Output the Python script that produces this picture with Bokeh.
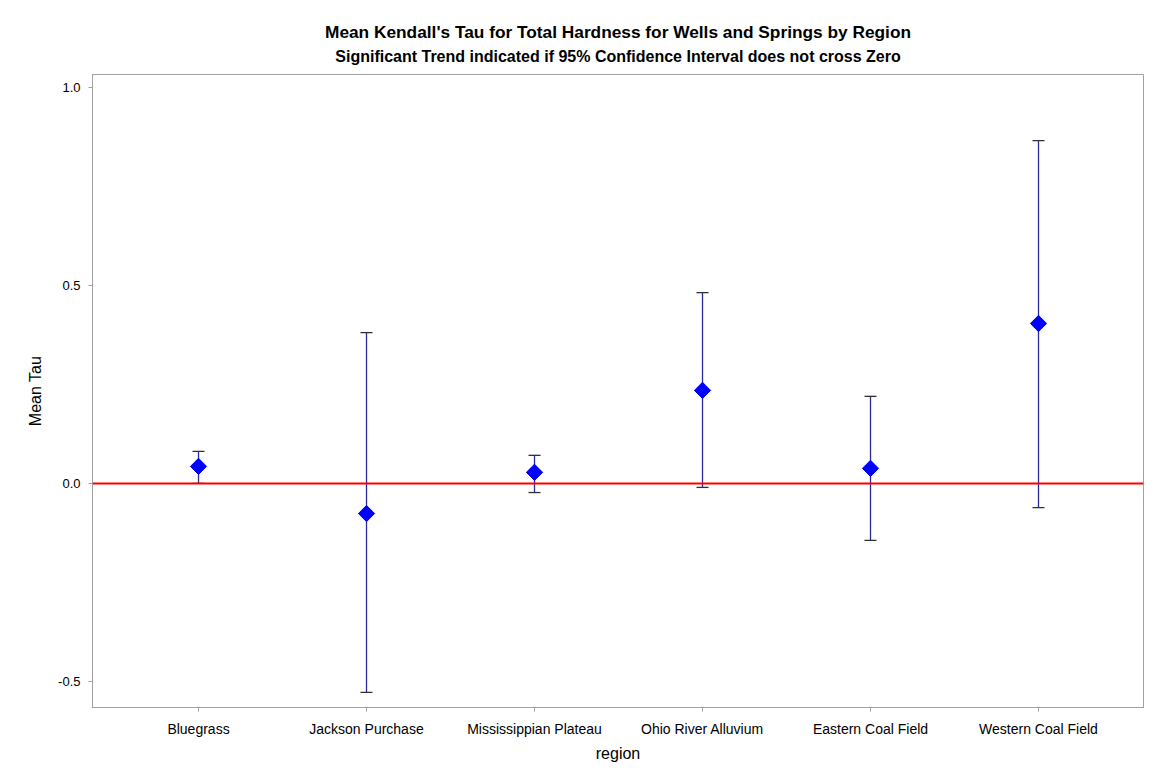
import numpy as np
from bokeh.plotting import figure
from bokeh.models import (ColumnDataSource, Whisker, TeeHead, Span, Title,
                          FixedTicker, Range1d)
from bokeh.embed import file_html
from bokeh.resources import INLINE

# Mean Kendall's tau and 95% confidence limits per region
regions = ["Bluegrass", "Jackson Purchase", "Mississippian Plateau",
           "Ohio River Alluvium", "Eastern Coal Field", "Western Coal Field"]
mean_tau = [0.043, -0.076, 0.028, 0.235, 0.038, 0.404]
upper_ci = [0.081, 0.381, 0.071, 0.482, 0.220, 0.866]
lower_ci = [0.000, -0.528, -0.023, -0.010, -0.144, -0.061]
y_ticks = [-0.5, 0.0, 0.5, 1.0]

pos = list(range(len(regions)))
src = ColumnDataSource(dict(x=pos, mean=mean_tau, upper=upper_ci, lower=lower_ci))

FONT = "Liberation Sans"
GRAY = "#a0a0a0"

p = figure(width=1152, height=771, output_backend="svg", toolbar_location=None,
           x_range=Range1d(-0.631, 5.625), y_range=Range1d(-0.566, 1.033),
           min_border_left=92, min_border_right=9, min_border_top=74,
           min_border_bottom=64, background_fill_color="white",
           border_fill_color="white")

# two-line heading: main title on top, subtitle just above the frame
p.title.text = "Mean Kendall's Tau for Total Hardness for Wells and Springs by Region"
p.title.text_font = FONT
p.title.text_font_size = "17.3px"
p.title.text_font_style = "bold"
p.title.text_color = "black"
p.title.align = "center"
p.title.offset = 0
p.title.standoff = -13
p.add_layout(Title(text="Significant Trend indicated if 95% Confidence Interval does not cross Zero",
                   text_font=FONT, text_font_size="16px", text_font_style="bold",
                   text_color="black", align="center", standoff=20), "above")

p.grid.visible = False
p.outline_line_color = GRAY
p.outline_line_width = 1

# zero reference line
p.add_layout(Span(location=0.0, dimension="width", line_color="#ff0000", line_width=2))

# confidence intervals
wh = Whisker(source=src, base="x", upper="upper", lower="lower", dimension="height",
             line_color="#2b2b9c", line_width=1.3,
             upper_head=TeeHead(size=12, line_color="#303030", line_width=1.3),
             lower_head=TeeHead(size=12, line_color="#303030", line_width=1.3))
p.add_layout(wh)

# means
p.scatter("x", "mean", source=src, marker="square", angle=np.pi / 4, size=11.5,
          fill_color="#0000ff", line_color="#0000ff")

# axes
p.xaxis.ticker = FixedTicker(ticks=pos)
p.xaxis.major_label_overrides = {i: r for i, r in enumerate(regions)}
p.yaxis.ticker = FixedTicker(ticks=y_ticks)
p.yaxis.major_label_overrides = {t: f"{t:.1f}" for t in y_ticks}
p.xaxis.axis_label = "region"
p.yaxis.axis_label = "Mean Tau"

for ax in (p.xaxis, p.yaxis):
    ax.axis_line_color = GRAY
    ax.major_tick_line_color = GRAY
    ax.major_tick_out = 4
    ax.major_tick_in = 0
    ax.minor_tick_line_color = None
    ax.major_label_text_font = FONT
    ax.major_label_text_color = "black"
    ax.axis_label_text_font = FONT
    ax.axis_label_text_font_size = "16px"
    ax.axis_label_text_font_style = "normal"
    ax.axis_label_text_color = "black"

p.xaxis.major_label_text_font_size = "14px"
p.yaxis.major_label_text_font_size = "13px"
p.xaxis.major_label_standoff = 9
p.xaxis.axis_label_standoff = 5
p.yaxis.major_label_standoff = 8
p.yaxis.axis_label_standoff = 11

open("out.html", "w").write(file_html(p, INLINE))
